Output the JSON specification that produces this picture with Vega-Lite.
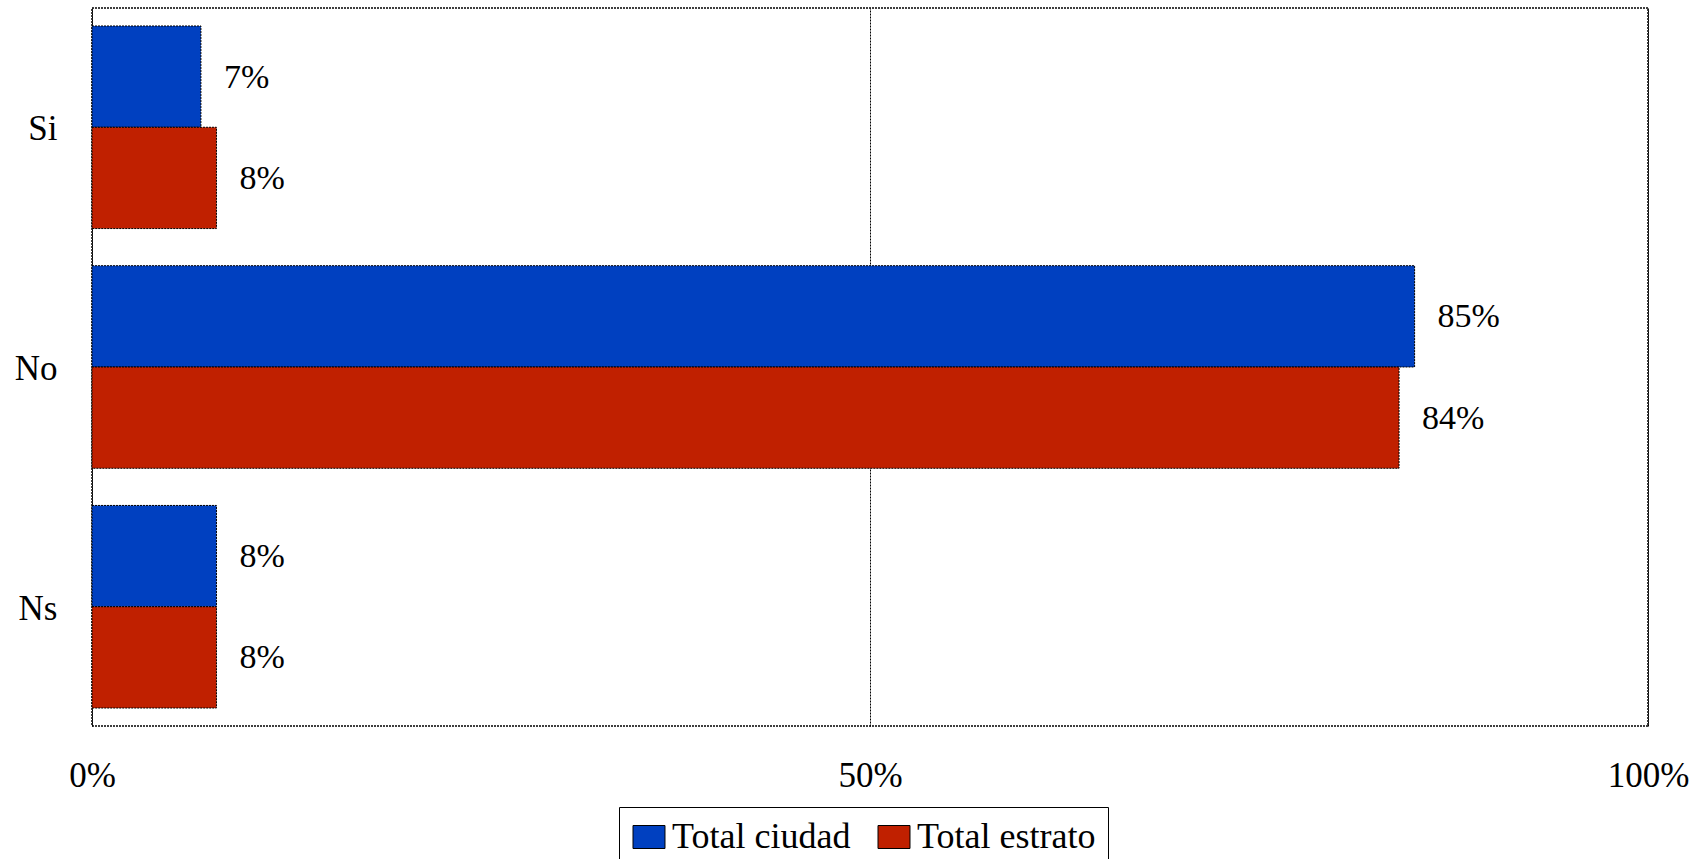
{
  "$schema": "https://vega.github.io/schema/vega-lite/v6.json",
  "width": 1556,
  "height": 718,
  "autosize": {"type": "none"},
  "padding": {"left": 92, "top": 8, "right": 53, "bottom": 133},
  "background": "white",
  "config": {
    "view": {"stroke": "black", "strokeWidth": 1.5, "strokeDash": [2, 1]},
    "font": "Liberation Serif"
  },
  "data": {
    "values": [
      {"cat": "Si", "serie": "Total ciudad", "v": 0.07},
      {"cat": "Si", "serie": "Total estrato", "v": 0.08},
      {"cat": "No", "serie": "Total ciudad", "v": 0.85},
      {"cat": "No", "serie": "Total estrato", "v": 0.84},
      {"cat": "Ns", "serie": "Total ciudad", "v": 0.08},
      {"cat": "Ns", "serie": "Total estrato", "v": 0.08}
    ]
  },
  "encoding": {
    "y": {
      "field": "cat", "type": "nominal", "sort": ["Si", "No", "Ns"],
      "scale": {"paddingInner": 0.155, "paddingOuter": 0.075},
      "axis": {
        "title": null, "domain": false, "ticks": false, "labelPadding": 35,
        "labelFontSize": 35, "labelFont": "Liberation Serif", "labelColor": "black", "labelOffset": 2
      }
    },
    "yOffset": {
      "field": "serie", "type": "nominal", "sort": ["Total ciudad", "Total estrato"],
      "scale": {"paddingInner": 0, "paddingOuter": 0}
    },
    "x": {
      "field": "v", "type": "quantitative",
      "scale": {"domain": [0, 1], "nice": false},
      "axis": {
        "title": null, "values": [0, 0.5, 1], "format": ".0%", "domain": false, "ticks": false,
        "labelPadding": 32, "labelFontSize": 35, "labelFont": "Liberation Serif", "labelColor": "black",
        "grid": true, "gridColor": "black", "gridWidth": 1, "gridDash": [2, 1], "labelFlush": false
      }
    }
  },
  "layer": [
    {
      "mark": {"type": "bar", "stroke": "black", "strokeWidth": 1, "strokeDash": [2, 1]},
      "encoding": {
        "color": {
          "field": "serie", "type": "nominal",
          "scale": {"domain": ["Total ciudad", "Total estrato"], "range": ["#0040C0", "#C02000"]},
          "legend": {
            "title": null, "orient": "none", "direction": "horizontal",
            "legendX": 527, "legendY": 799,
            "symbolType": "M-1.39,-1H1.39V1H-1.39Z", "symbolSize": 529,
            "symbolStrokeColor": "black", "symbolStrokeWidth": 1, "symbolOpacity": 1,
            "labelFontSize": 36, "labelFont": "Liberation Serif", "labelColor": "black",
            "labelLimit": 0, "labelOffset": 5, "columnPadding": 25, "padding": 12,
            "strokeColor": "black", "fillColor": "white"
          }
        }
      }
    },
    {
      "mark": {"type": "text", "align": "left", "baseline": "middle", "dx": 23, "dy": 1, "fontSize": 34, "font": "Liberation Serif", "color": "black"},
      "encoding": {"text": {"field": "v", "type": "quantitative", "format": ".0%"}}
    }
  ]
}
